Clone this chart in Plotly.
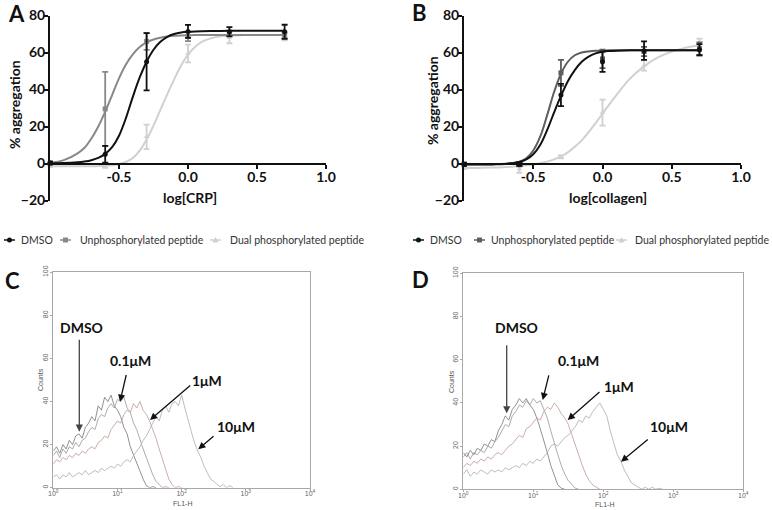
import plotly.graph_objects as go

W, H = 772, 510
FONT = "Lato, Carlito, Calibri, sans-serif"

# ---- panels A / B : dose-response data ----
DOSE_LOG = [-1.0, -0.6, -0.3, 0.0, 0.3, 0.7]

A_DMSO = [0.3, 5.0, 55.0, 71.4, 71.2, 71.2]
A_DMSO_ERR = [0.8, 4.5, 15.5, 3.5, 2.5, 3.8]
A_UNPHOS = [0.0, 29.5, 66.0, 68.7, 70.3, 69.2]
A_UNPHOS_ERR = [0.5, 20.0, 4.6, 2.5, 1.5, 1.5]
A_DUAL = [-1.2, -1.4, 14.4, 59.5, 68.0, 69.0]
A_DUAL_ERR = [0.8, 1.0, 6.6, 4.8, 3.0, 2.5]

B_DMSO = [-0.5, -0.3, 37.0, 55.0, 61.0, 61.5]
B_DMSO_ERR = [0.8, 1.0, 6.0, 5.5, 5.0, 3.0]
B_UNPHOS = [-0.3, -0.5, 49.0, 56.5, 60.5, 62.0]
B_UNPHOS_ERR = [0.8, 1.0, 7.0, 5.0, 2.5, 3.5]
B_DUAL = [-2.0, -3.0, 3.6, 27.5, 53.0, 64.5]
B_DUAL_ERR = [1.0, 2.0, 0.8, 7.0, 2.8, 3.0]

# fitted curves
FIT_X = [-1.0, -0.9, -0.8, -0.75, -0.7, -0.65, -0.6, -0.55, -0.5, -0.45, -0.4, -0.35,
         -0.3, -0.25, -0.2, -0.15, -0.1, -0.05, 0.0, 0.05, 0.1, 0.2, 0.3, 0.4, 0.5, 0.6, 0.7]
A_DMSO_FIT = [0.2, 0.3, 0.7, 1.1, 1.8, 3.0, 5.2, 8.8, 15.0, 24.5, 36.0, 46.5,
              55.0, 61.5, 65.8, 68.5, 70.0, 70.8, 71.2, 71.4, 71.5, 71.6, 71.7, 71.7, 71.7, 71.7, 71.7]
A_UNPHOS_FIT = [0.3, 1.8, 5.5, 8.5, 13.5, 20.0, 28.0, 37.0, 46.0, 53.5, 59.0, 63.0,
                65.5, 67.0, 68.0, 68.6, 69.0, 69.2, 69.3, 69.4, 69.4, 69.4, 69.4, 69.4, 69.4, 69.4, 69.4]
A_DUAL_FIT = [-1.5, -1.5, -1.5, -1.5, -1.5, -1.4, -1.3, -1.0, -0.4, 0.8, 3.0, 7.0,
              13.0, 20.5, 29.0, 37.5, 45.5, 53.0, 58.8, 63.0, 65.8, 68.3, 69.1, 69.4, 69.5, 69.5, 69.5]
B_DMSO_FIT = [-0.6, -0.6, -0.5, -0.4, -0.3, 0.2, 0.8, 2.2, 5.0, 10.0, 18.0, 27.5,
              36.5, 44.5, 50.5, 55.0, 57.8, 59.5, 60.4, 60.8, 61.0, 61.2, 61.2, 61.2, 61.2, 61.2, 61.2]
B_UNPHOS_FIT = [-0.4, -0.4, -0.4, -0.3, -0.2, 0.3, 1.0, 2.8, 7.0, 14.5, 26.0, 38.5,
                48.5, 55.0, 58.5, 60.0, 60.6, 60.9, 61.0, 61.2, 61.2, 61.2, 61.2, 61.2, 61.2, 61.2, 61.2]
B_DUAL_FIT = [-2.5, -2.4, -2.2, -2.1, -1.9, -1.7, -1.4, -1.0, -0.5, 0.2, 1.0, 2.2,
              3.8, 6.0, 9.0, 12.5, 17.0, 21.8, 27.0, 32.0, 37.0, 46.0, 52.5, 57.3, 60.5, 62.6, 63.9]

# ---- panels C / D : flow cytometry histograms (log10 FL1-H vs counts) ----
LOG_FL1 = [0.00, 0.05, 0.10, 0.15, 0.20, 0.25, 0.30, 0.35, 0.40, 0.45, 0.50, 0.55, 0.60, 0.65,
           0.70, 0.75, 0.80, 0.85, 0.90, 0.95, 1.00, 1.05, 1.10, 1.15, 1.20, 1.25, 1.30, 1.35,
           1.40, 1.45, 1.50, 1.55, 1.60, 1.65, 1.70, 1.75, 1.80, 1.85, 1.90, 1.95, 2.00, 2.05,
           2.10, 2.15, 2.20, 2.25, 2.30, 2.35, 2.40, 2.45, 2.50, 2.55, 2.60, 2.65, 2.70, 2.75,
           2.80, 2.85, 2.90]

C_DMSO = [17, 19, 16, 20, 18, 22, 20, 24, 25, 23, 28, 30, 33, 31, 38, 36, 42, 40, 43, 38,
          36, 33, 28, 25, 19, 15, 11, 7, 4, 1, 0, 0.5, 0]
C_01 = [15, 17, 14, 18, 16, 19, 18, 21, 19, 22, 23, 26, 28, 27, 32, 34, 33, 37, 39, 37,
        41, 40, 42, 37, 35, 30, 27, 22, 18, 14, 10, 6, 3, 1.5, 0, 0.5, 0]
C_1 = [11, 13, 12, 14, 13, 15, 14, 16, 15, 17, 16, 18, 19, 18, 21, 22, 24, 23, 27, 29,
       31, 30, 34, 36, 35, 39, 37, 40, 36, 34, 31, 27, 23, 18, 13, 8, 4, 1.5, 0, 0.5, 0]
C_10 = [5, 6, 4, 6, 5, 7, 5, 6, 7, 6, 8, 6, 7, 8, 7, 9, 8, 9, 10, 9,
        11, 10, 12, 13, 12, 15, 17, 19, 22, 24, 27, 30, 33, 31, 36, 38, 35, 39, 40, 38,
        43, 37, 31, 26, 21, 17, 14, 10, 7, 4, 3, 1.5, 0.5, 1.5, 0, 1, 0]

D_DMSO = [17, 15, 18, 16, 19, 18, 21, 20, 23, 22, 27, 30, 34, 32, 37, 39, 42, 40, 42, 39,
          37, 33, 28, 23, 17, 11, 6, 2, 0.5, 0]
D_01 = [15, 17, 14, 17, 16, 18, 17, 20, 19, 22, 24, 27, 30, 29, 34, 36, 39, 38, 41, 39,
        42, 40, 41, 37, 33, 27, 21, 16, 11, 7, 4, 2, 0.5, 0]
D_1 = [10, 12, 11, 13, 12, 14, 13, 15, 14, 16, 17, 16, 18, 20, 21, 23, 25, 24, 28, 29,
       31, 33, 32, 36, 38, 37, 40, 38, 35, 33, 30, 25, 20, 15, 11, 7, 4, 2, 1, 0]
D_10 = [7, 9, 6, 8, 7, 9, 8, 7, 9, 8, 9, 8, 10, 9, 10, 11, 10, 12, 11, 13,
        12, 14, 13, 15, 17, 20, 21, 20, 22, 24, 25, 27, 29, 32, 31, 34, 33, 36, 38, 40,
        37, 34, 27, 21, 16, 13, 9, 6, 3, 2, 1, 0, 1, 0, 1, 0, 0.5, 0]

SERIES_NAMES = ["DMSO", "Unphosphorylated peptide", "Dual phosphorylated peptide"]
HIST_COLORS = ["#858585", "#a3a3a3", "#c9a0a0", "#b2b8b2"]


def px(x):
    return x / W


def py(y):
    return 1 - y / H


fig = go.Figure()

AB_YDOM = [py(200.5), py(15.5)]
ZERO_POS = AB_YDOM[0] + 0.2 * (AB_YDOM[1] - AB_YDOM[0])

dose_panels = [
    ("x", "y", [(A_DMSO, A_DMSO_ERR, A_DMSO_FIT), (A_UNPHOS, A_UNPHOS_ERR, A_UNPHOS_FIT),
                (A_DUAL, A_DUAL_ERR, A_DUAL_FIT)], ["#111111", "#888888", "#d0d0d0"]),
    ("x2", "y2", [(B_DMSO, B_DMSO_ERR, B_DMSO_FIT), (B_UNPHOS, B_UNPHOS_ERR, B_UNPHOS_FIT),
                  (B_DUAL, B_DUAL_ERR, B_DUAL_FIT)], ["#111111", "#5e5e5e", "#d0d0d0"]),
]
symbols = ["circle", "square", "triangle-up"]

for xa, ya, groups, colors in dose_panels:
    # light series drawn first so dark ones sit on top
    for i in [2, 1, 0]:
        mean, err, fit = groups[i]
        fig.add_trace(go.Scatter(
            x=FIT_X, y=fit, xaxis=xa, yaxis=ya, mode="lines",
            line=dict(color=colors[i], width=2, shape="spline"),
            showlegend=False, hoverinfo="skip", cliponaxis=False,
        ))
        fig.add_trace(go.Scatter(
            x=DOSE_LOG, y=mean, xaxis=xa, yaxis=ya, mode="markers",
            marker=dict(color=colors[i], size=5, symbol=symbols[i]),
            error_y=dict(type="data", array=err, color=colors[i], thickness=1.8, width=3),
            name=SERIES_NAMES[i], showlegend=False, cliponaxis=False,
        ))

hist_panels = [
    ("x3", "y3", [C_DMSO, C_01, C_1, C_10]),
    ("x4", "y4", [D_DMSO, D_01, D_1, D_10]),
]
for xa, ya, traces in hist_panels:
    for series, color in zip(traces, HIST_COLORS):
        fig.add_trace(go.Scatter(
            x=LOG_FL1[:len(series)], y=series, xaxis=xa, yaxis=ya, mode="lines",
            line=dict(color=color, width=0.9), showlegend=False, hoverinfo="skip",
        ))

bold_tick = dict(family=FONT, size=14, color="#111111", weight="bold")


def dose_xaxis(dom):
    return dict(domain=dom, range=[-1, 1], anchor="free", position=ZERO_POS,
                showline=True, linecolor="#111111", linewidth=2, ticks="outside",
                ticklen=4, tickwidth=2, tickcolor="#111111", automargin=False,
                ticklabelstandoff=-3,
                tickvals=[-0.5, 0, 0.5, 1.0], ticktext=["-0.5", "0.0", "0.5", "1.0"],
                tickfont=bold_tick, showgrid=False, zeroline=False)


def dose_yaxis(anchor):
    return dict(domain=AB_YDOM, range=[-20, 80], anchor=anchor, showline=True,
                linecolor="#111111", linewidth=2, ticks="outside", ticklen=4, tickwidth=2,
                tickcolor="#111111", tickvals=[-20, 0, 20, 40, 60, 80], automargin=False,
                ticklabelstandoff=-4,
                tickfont=bold_tick, showgrid=False, zeroline=False)


small_tick = dict(family="Liberation Sans, Arial, sans-serif", size=7, color="#666666")


def hist_xaxis(dom, anchor):
    return dict(domain=dom, range=[0, 4], anchor=anchor, showline=True, mirror=True,
                linecolor="#a8a8a8", linewidth=1, ticks="outside", ticklen=2,
                tickcolor="#a8a8a8", tickvals=[0, 1, 2, 3, 4], automargin=False,
                ticklabelstandoff=-3,
                ticktext=["10<sup>0</sup>", "10<sup>1</sup>", "10<sup>2</sup>",
                          "10<sup>3</sup>", "10<sup>4</sup>"],
                tickfont=small_tick, showgrid=False, zeroline=False)


def hist_yaxis(dom, anchor):
    return dict(domain=dom, range=[0, 100], anchor=anchor, showline=True, mirror=True,
                linecolor="#a8a8a8", linewidth=1, ticks="outside", ticklen=2,
                tickcolor="#a8a8a8", tickvals=[0, 20, 40, 60, 80, 100], tickangle=-90,
                automargin=False, tickfont=small_tick, showgrid=False, zeroline=False)


def label(text, x, y, font, angle=0, xanchor="center"):
    return dict(text=text, x=px(x), y=py(y), xref="paper", yref="paper", showarrow=False,
                xanchor=xanchor, yanchor="middle", textangle=angle, font=font)


annotations = []
bold = dict(family=FONT, size=14, color="#111111", weight="bold")
big = dict(family=FONT, size=22, color="#111111", weight="bold")
tiny = dict(family="Liberation Sans, Arial, sans-serif", size=7, color="#555555")

for text, x, y in [("A", 16, 13), ("B", 419, 12), ("C", 12.5, 280), ("D", 420, 279)]:
    annotations.append(label(text, x, y, big))
for text, x, y, angle in [("% aggregation", 15, 105, -90), ("% aggregation", 433, 101, -90),
                          ("log[CRP]", 190, 198, 0), ("log[collagen]", 608, 198, 0)]:
    annotations.append(label(text, x, y, bold, angle))
for text, x, y, angle in [("Counts", 40, 380, -90), ("Counts", 451, 382, -90),
                          ("FL1-H", 182, 503, 0), ("FL1-H", 604, 504.5, 0)]:
    annotations.append(label(text, x, y, tiny, angle))

# labels and arrows in C and D
labels = [
    ("DMSO", 81.7, 327), ("0.1\u03bcM", 130, 360), ("1\u03bcM", 207, 380), ("10\u03bcM", 235.7, 426),
    ("DMSO", 516, 327), ("0.1\u03bcM", 578.3, 360), ("1\u03bcM", 618.7, 386), ("10\u03bcM", 669.3, 426),
]
for text, x, y in labels:
    annotations.append(label(text, x, y, bold))
arrows = [
    ((79.3, 337.7), (79.3, 431.7), "#444444"), ((126.7, 373), (120, 401.7), "#111111"),
    ((191.7, 384.3), (150, 420), "#111111"), ((215, 435), (198.3, 449.3), "#111111"),
    ((506.7, 343.3), (506.7, 413.3), "#444444"), ((549.3, 373.3), (542.7, 400), "#111111"),
    ((601, 390.7), (567.7, 420), "#111111"), ((649.3, 438.3), (621, 461.7), "#111111"),
]
for (x0, y0), (x1, y1), col in arrows:
    annotations.append(dict(text=" ", x=px(x1), y=py(y1), xref="paper", yref="paper",
                            ax=x0 - x1, ay=y0 - y1, showarrow=True, arrowhead=2,
                            arrowsize=1.1, arrowwidth=1.3, arrowcolor=col, standoff=0,
                            font=dict(size=1)))

# legends below A and B
legend_rows = [
    [(4, 19), (60, 78), (210, 228)],
    [(413, 428), (474, 489), (616, 633)],
]
legend_colors = [["#111111", "#888888", "#d0d0d0"], ["#111111", "#5e5e5e", "#d0d0d0"]]
legend_font = dict(family=FONT, size=10.5, color="#333333")
shapes = []
LEG_Y = 240
for row, cols in zip(legend_rows, legend_colors):
    for (gx, tx), name, col, sym in zip(row, SERIES_NAMES, cols, symbols):
        shapes.append(dict(type="line", xref="paper", yref="paper", x0=px(gx), x1=px(gx + 11),
                           y0=py(LEG_Y), y1=py(LEG_Y), line=dict(color=col, width=1.5)))
        cx = gx + 5.5
        if sym == "square":
            shapes.append(dict(type="rect", xref="paper", yref="paper", x0=px(cx - 2.5),
                               x1=px(cx + 2.5), y0=py(LEG_Y + 2.5), y1=py(LEG_Y - 2.5),
                               fillcolor=col, line=dict(width=0)))
        elif sym == "circle":
            shapes.append(dict(type="circle", xref="paper", yref="paper", x0=px(cx - 2.5),
                               x1=px(cx + 2.5), y0=py(LEG_Y + 2.5), y1=py(LEG_Y - 2.5),
                               fillcolor=col, line=dict(width=0)))
        else:
            shapes.append(dict(type="path", xref="paper", yref="paper",
                               path=f"M {px(cx - 3)} {py(LEG_Y + 2.5)} L {px(cx + 3)} {py(LEG_Y + 2.5)} "
                                    f"L {px(cx)} {py(LEG_Y - 3)} Z",
                               fillcolor=col, line=dict(width=0)))
        annotations.append(label(name, tx, LEG_Y, legend_font, xanchor="left"))

fig.update_layout(
    width=W, height=H, margin=dict(l=0, r=0, t=0, b=0, autoexpand=False),
    paper_bgcolor="white", plot_bgcolor="white", showlegend=False,
    xaxis=dose_xaxis([px(50), px(326)]), yaxis=dose_yaxis("x"),
    xaxis2=dose_xaxis([px(464), px(741)]), yaxis2=dose_yaxis("x2"),
    xaxis3=hist_xaxis([px(53.3), px(310)], "y3"), yaxis3=hist_yaxis([py(487.7), py(272.3)], "x3"),
    xaxis4=hist_xaxis([px(463.3), px(743.3)], "y4"), yaxis4=hist_yaxis([py(489.3), py(273.3)], "x4"),
    annotations=annotations, shapes=shapes,
)

# page body has a default 8px margin; drop it so the figure fills the window
fig.write_html("out.html", config={"displayModeBar": False},
               post_script="document.body.style.margin = '0';")
